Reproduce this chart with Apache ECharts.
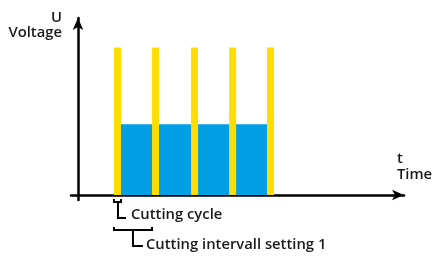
<!DOCTYPE html>
<html>
<head>
<meta charset="utf-8">
<script src="https://cdn.jsdelivr.net/npm/echarts@6/dist/echarts.min.js"></script>
<style>
  html, body { margin: 0; padding: 0; background: #fff; }
  #chart { width: 433px; height: 258px; }
</style>
</head>
<body>
<div id="chart"></div>
<script>
// time positions (arbitrary units) where each cutting pulse starts
const pulseStart = [9.4, 19.35, 29.55, 39.5, 49.4]
const pulseWidth = 1.83
const pulseLevel = 100
// cutting voltage between the pulses
const cutLevel = 48

const pulses = pulseStart.map(s => [s, s + pulseWidth, pulseLevel])
const cuts = pulseStart.slice(0, -1).map((s, i) => [s, pulseStart[i + 1], cutLevel])

const FONT = 'Open Sans'
const yellow = '#ffdd00'
const blue = '#009fe3'

function renderRect(params, api) {
  const p0 = api.coord([api.value(0), api.value(2)])
  const p1 = api.coord([api.value(1), 0])
  return {
    type: 'rect',
    shape: { x: p0[0], y: p0[1], width: p1[0] - p0[0], height: p1[1] - p0[1] },
    style: { fill: api.visual('color') }
  }
}

const axisLine = { onZero: true, lineStyle: { color: '#000', width: 2.5 }, symbol: ['none', 'arrow'], symbolSize: [8, 12] }

const chart = echarts.init(document.getElementById('chart'), null, { renderer: 'canvas' })
chart.setOption({
  animation: false,
  backgroundColor: '#fff',
  grid: { left: 71, right: 29, top: 18, bottom: 58 },
  xAxis: {
    type: 'value', min: -1.83, max: 85.2,
    axisLine, axisTick: { show: false }, axisLabel: { show: false }, splitLine: { show: false }
  },
  yAxis: {
    type: 'value', min: -3.4, max: 120,
    axisLine, axisTick: { show: false }, axisLabel: { show: false }, splitLine: { show: false }
  },
  series: [
    { type: 'custom', renderItem: renderRect, data: cuts, itemStyle: { color: blue }, z: 2 },
    { type: 'custom', renderItem: renderRect, data: pulses, itemStyle: { color: yellow }, z: 3 }
  ]
})

// annotations under the time axis, anchored to the data positions
const px = v => chart.convertToPixel({ xAxisIndex: 0 }, v)
const c0 = px(pulseStart[0])
const c1 = px(pulseStart[0] + pulseWidth)
const i1 = px(pulseStart[1])
const line = { stroke: '#000', lineWidth: 2, fill: null }
const txt = (x, y, text, align) => ({
  type: 'text', x, y,
  style: { text, font: '600 14.8px "' + FONT + '"', fill: '#1a1a1a', align: align || 'left', verticalAlign: 'middle' }
})

chart.setOption({
  graphic: [
    txt(62, 18, 'U', 'right'),
    txt(62, 33, 'Voltage', 'right'),
    txt(397, 159, 't'),
    txt(397, 175, 'Time'),
    { type: 'polyline', shape: { points: [[c0, 199], [c0, 202], [c1, 202], [c1, 199]] }, style: line },
    { type: 'polyline', shape: { points: [[c0 + 4, 202], [c0 + 4, 218], [c0 + 12, 218]] }, style: line },
    txt(c0 + 17, 215, 'Cutting cycle'),
    { type: 'polyline', shape: { points: [[c0, 227], [c0, 230], [i1, 230], [i1, 227]] }, style: line },
    { type: 'polyline', shape: { points: [[c0 + 19, 230], [c0 + 19, 246], [c0 + 29, 246]] }, style: line },
    txt(c0 + 32, 245, 'Cutting intervall setting 1')
  ]
})
</script>
</body>
</html>
